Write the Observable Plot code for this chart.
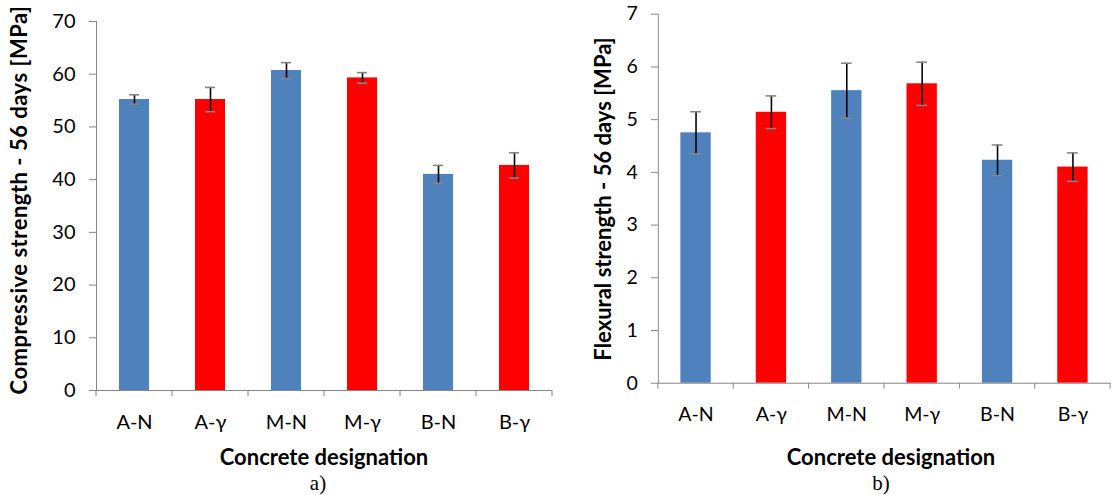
<!DOCTYPE html>
<html><head><meta charset="utf-8">
<script src="https://cdn.jsdelivr.net/npm/d3@7"></script>
<script src="https://cdn.jsdelivr.net/npm/@observablehq/plot@0.6"></script>
<style>
body{margin:0;background:#fff;}
#wrap{position:relative;width:1116px;height:495px;overflow:hidden;font-family:Lato,sans-serif;}
.panel{position:absolute;top:0;}
.cap{position:absolute;font-family:"Liberation Serif",serif;font-size:21px;color:#000;transform:translate(-50%,-50%);line-height:1;}
.lab{position:absolute;font-family:Lato,sans-serif;font-weight:bold;font-size:22px;color:#000;white-space:nowrap;line-height:1;}
.ylab{transform:translate(-50%,-50%) rotate(-90deg);}
.xlab{transform:translate(-50%,-50%);}
svg [aria-label$="tick"]{stroke:#868686;}
svg [aria-label="frame"]{stroke:#868686;}
</style></head><body>
<div id="wrap">
  <div id="a" class="panel" style="left:0"></div>
  <div id="b" class="panel" style="left:558px"></div>
  <div class="lab ylab" style="left:19px;top:200px;letter-spacing:0.5px">Compressive strength - 56 days [MPa]</div>
  <div class="lab ylab" style="left:603px;top:199px">Flexural strength - 56 days [MPa]</div>
  <div class="lab xlab" style="left:324px;top:457px">Concrete designation</div>
  <div class="lab xlab" style="left:891px;top:457px">Concrete designation</div>
  <div class="cap" style="left:318px;top:483px">a)</div>
  <div class="cap" style="left:881px;top:483px">b)</div>
</div>
<script>
const designations = ["A-N", "A-γ", "M-N", "M-γ", "B-N", "B-γ"];
const treatment = ["N", "γ", "N", "γ", "N", "γ"];
const compressive = [55.2, 55.2, 60.7, 59.3, 41.0, 42.7];
const compressiveErr = [0.9, 2.3, 1.5, 1.0, 1.7, 2.4];
const flexural = [4.75, 5.14, 5.55, 5.68, 4.23, 4.10];
const flexuralErr = [0.40, 0.31, 0.52, 0.41, 0.29, 0.27];
const compressiveTicks = [0, 10, 20, 30, 40, 50, 60, 70];
const flexuralTicks = [0, 1, 2, 3, 4, 5, 6, 7];
const treatmentColors = ["#4F81BD", "#FF0000"];

function makeChart(cfg) {
  const rows = designations.map((d, i) => ({
    name: d, treat: treatment[i], value: cfg.values[i],
    lo: cfg.values[i] - cfg.errs[i], hi: cfg.values[i] + cfg.errs[i]
  }));
  const chart = Plot.plot({
    width: cfg.width, height: 470,
    marginLeft: cfg.marginLeft, marginRight: cfg.marginRight,
    marginTop: cfg.marginTop, marginBottom: cfg.marginBottom,
    style: {fontFamily: "Lato, sans-serif", fontSize: "20px", color: "#000", background: "transparent", overflow: "visible"},
    x: {domain: designations, paddingInner: 0.6, paddingOuter: 0.3, label: null,
        tickSize: 0, tickPadding: 24},
    y: {domain: [cfg.ticks[0], cfg.ticks[cfg.ticks.length - 1]], ticks: cfg.ticks, tickFormat: d3.format("d"),
        tickSize: 7, tickPadding: 14, label: null, line: true},
    color: {domain: ["N", "γ"], range: treatmentColors},
    marks: [
      Plot.barY(rows, {x: "name", y: "value", fill: "treat"}),
      Plot.ruleY([0], {stroke: "#868686"}),
      Plot.ruleX(rows, {x: "name", y1: "lo", y2: "hi", stroke: "#000", strokeWidth: 1.6}),
      Plot.tickY(rows, {x: "name", y: "lo", stroke: "#000", strokeWidth: 1.6, inset: 10}),
      Plot.tickY(rows, {x: "name", y: "hi", stroke: "#000", strokeWidth: 1.6, inset: 10})
    ]
  });
  // boundary tick marks on the category axis, from the plot's own scales
  const sx = chart.scale("x"), sy = chart.scale("y");
  const y0 = sy.apply(0);
  const centers = designations.map(d => sx.apply(d) + sx.bandwidth / 2);
  const bounds = centers.map(c => c - sx.step / 2).concat([centers[centers.length - 1] + sx.step / 2]);
  d3.select(chart).append("g").selectAll("line").data(bounds).join("line")
    .attr("x1", d => d).attr("x2", d => d).attr("y1", y0).attr("y2", y0 + 6)
    .attr("stroke", "#868686");
  document.getElementById(cfg.id).append(chart);
}

makeChart({id: "a", values: compressive, errs: compressiveErr, ticks: compressiveTicks,
  width: 558, marginLeft: 96, marginRight: 6, marginTop: 21, marginBottom: 80});
makeChart({id: "b", values: flexural, errs: flexuralErr, ticks: flexuralTicks,
  width: 570, marginLeft: 102, marginRight: 6, marginTop: 14, marginBottom: 79});
</script>
</body></html>
